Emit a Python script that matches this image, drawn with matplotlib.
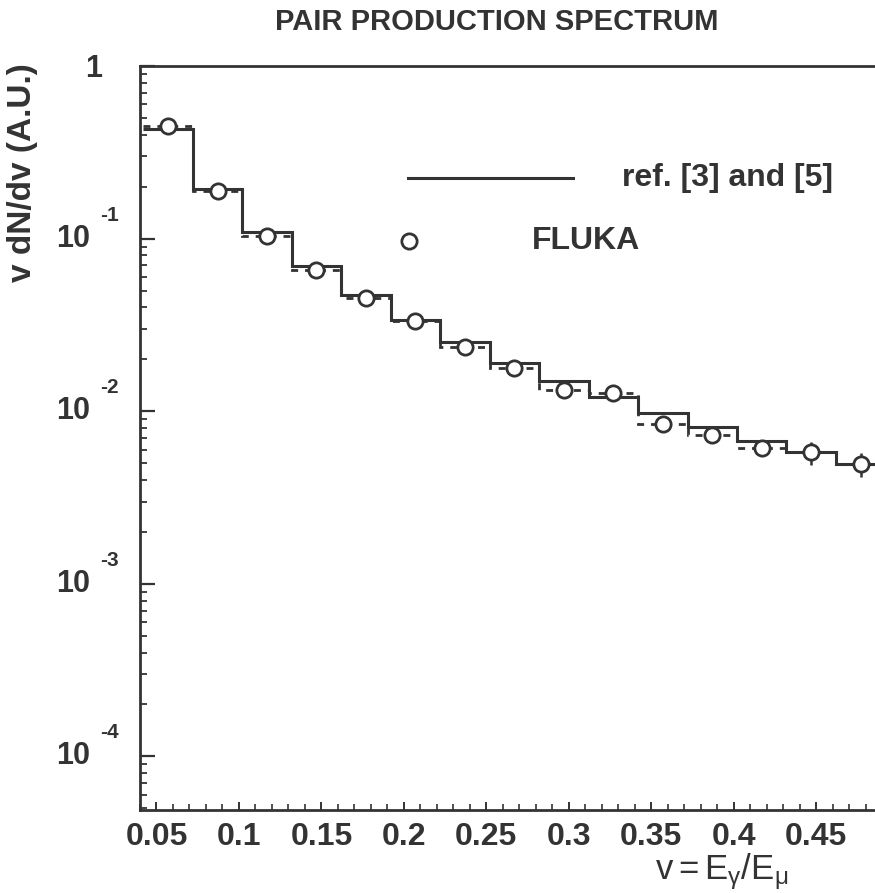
import numpy as np
import matplotlib.pyplot as plt
import matplotlib.transforms as mtransforms

plt.rcParams['font.family'] = ['Liberation Sans', 'DejaVu Sans']
plt.rcParams['mathtext.fontset'] = 'custom'
plt.rcParams['mathtext.rm'] = 'Liberation Sans'
plt.rcParams['mathtext.it'] = 'Liberation Sans'
plt.rcParams['mathtext.bf'] = 'Liberation Sans:bold'

# bin edges in v = E_gamma / E_mu
edges = np.arange(0.042, 0.493, 0.03)
centers = 0.5 * (edges[:-1] + edges[1:])

# analytic spectrum from ref. [3] and [5]
ref_vals = [0.433, 0.1945, 0.110, 0.069, 0.0469, 0.0338, 0.0251, 0.01905,
            0.01506, 0.01217, 0.00978, 0.00808, 0.00676, 0.00578, 0.00495]
# FLUKA histogram and relative errors
fluka_vals = [0.452, 0.190, 0.1040, 0.0662, 0.0454, 0.0335, 0.0235, 0.0178,
              0.0132, 0.0128, 0.00844, 0.00729, 0.00610, 0.00578, 0.00495]
fluka_err = [0.02, 0.03, 0.03, 0.04, 0.04, 0.05, 0.05, 0.06,
             0.06, 0.07, 0.07, 0.08, 0.09, 0.15, 0.16]

xticks = [0.05, 0.1, 0.15, 0.2, 0.25, 0.3, 0.35, 0.4, 0.45]
xticklabels = ['0.05', '0.1', '0.15', '0.2', '0.25', '0.3', '0.35', '0.4', '0.45']
decades = [-1, -2, -3, -4]

ink = '#333333'

fig = plt.figure(figsize=(8.75, 8.93), dpi=100)
ax = fig.add_axes([0.16, 0.093, 0.867, 0.833])

ax.stairs(ref_vals, edges, baseline=None, color=ink, lw=2.2)
ax.stairs(fluka_vals, edges, baseline=None, color=ink, lw=2.0,
          linestyle=(0, (2.5, 2.5)))
fl = np.array(fluka_vals)
ferr = np.array(fluka_err) * fl
ax.errorbar(centers, fl, yerr=ferr, fmt='o', ms=11, mfc='white', mec=ink,
            mew=2.0, ecolor=ink, elinewidth=1.8, capsize=0, zorder=5)

ax.set_yscale('log')
ax.set_xlim(0.04, 0.5)
ax.set_ylim(10 ** -4.31, 1)

ax.set_xticks(xticks)
ax.set_xticklabels(xticklabels, fontsize=23, fontweight='bold', color=ink)
ax.set_xticks(np.arange(0.04, 0.5, 0.01), minor=True)
ax.tick_params(axis='x', which='major', direction='in', length=6, width=1.4,
               pad=9, color=ink)
ax.tick_params(axis='x', which='minor', direction='in', length=4, width=1.2,
               color=ink)
ax.yaxis.set_major_locator(plt.LogLocator(base=10, numticks=10))
ax.yaxis.set_minor_locator(plt.LogLocator(base=10, subs=np.arange(2, 10),
                                          numticks=20))
ax.yaxis.set_major_formatter(plt.NullFormatter())
ax.yaxis.set_minor_formatter(plt.NullFormatter())
ax.tick_params(axis='y', which='major', direction='in', length=11, width=1.6,
               color=ink)
ax.tick_params(axis='y', which='minor', direction='in', length=5, width=1.3,
               color=ink)

for s in ['left', 'bottom', 'top']:
    ax.spines[s].set_linewidth(2.0)
    ax.spines[s].set_color(ink)

# y tick labels drawn as 10 with a raised exponent
ytrans = mtransforms.blended_transform_factory(ax.transAxes, ax.transData)
ax.annotate('1', xy=(0, 1), xycoords=ytrans, xytext=(-27, -2),
            textcoords='offset points', ha='right', va='center',
            fontsize=22, fontweight='bold', color=ink, annotation_clip=False)
for e in decades:
    ax.annotate('10', xy=(0, 10.0 ** e), xycoords=ytrans, xytext=(-36, 0),
                textcoords='offset points', ha='right', va='center',
                fontsize=22, fontweight='bold', color=ink,
                annotation_clip=False)
    ax.annotate('-%d' % -e, xy=(0, 10.0 ** e), xycoords=ytrans,
                xytext=(-29, 17), textcoords='offset points', ha='left',
                va='center', fontsize=15, fontweight='bold', color=ink,
                annotation_clip=False)

# legend
ax.plot([0.353, 0.571], [0.849, 0.849], transform=ax.transAxes, color=ink,
        lw=2.2)
ax.text(0.636, 0.849, 'ref. [3] and [5]', transform=ax.transAxes,
        ha='left', va='center', fontsize=23, fontweight='bold', color=ink)
ax.plot([0.354], [0.765], 'o', transform=ax.transAxes, ms=11, mfc='white',
        mec=ink, mew=2.0)
ax.text(0.516, 0.765, 'FLUKA', transform=ax.transAxes, ha='left',
        va='center', fontsize=23, fontweight='bold', color=ink)

fig.text(0.568, 0.975, 'PAIR PRODUCTION SPECTRUM', ha='center', va='center',
         fontsize=21, fontweight='bold', color=ink)
fig.text(0.026, 0.807, 'v dN/dv (A.U.)', rotation=90, ha='center',
         va='center', fontsize=24, fontweight='bold', color=ink)
fig.text(0.825, 0.024, r'v$=$E$_{\gamma}$/E$_{\mu}$', ha='center',
         va='center', fontsize=25, color=ink)

fig.savefig('out.png', dpi=100, facecolor='white')
